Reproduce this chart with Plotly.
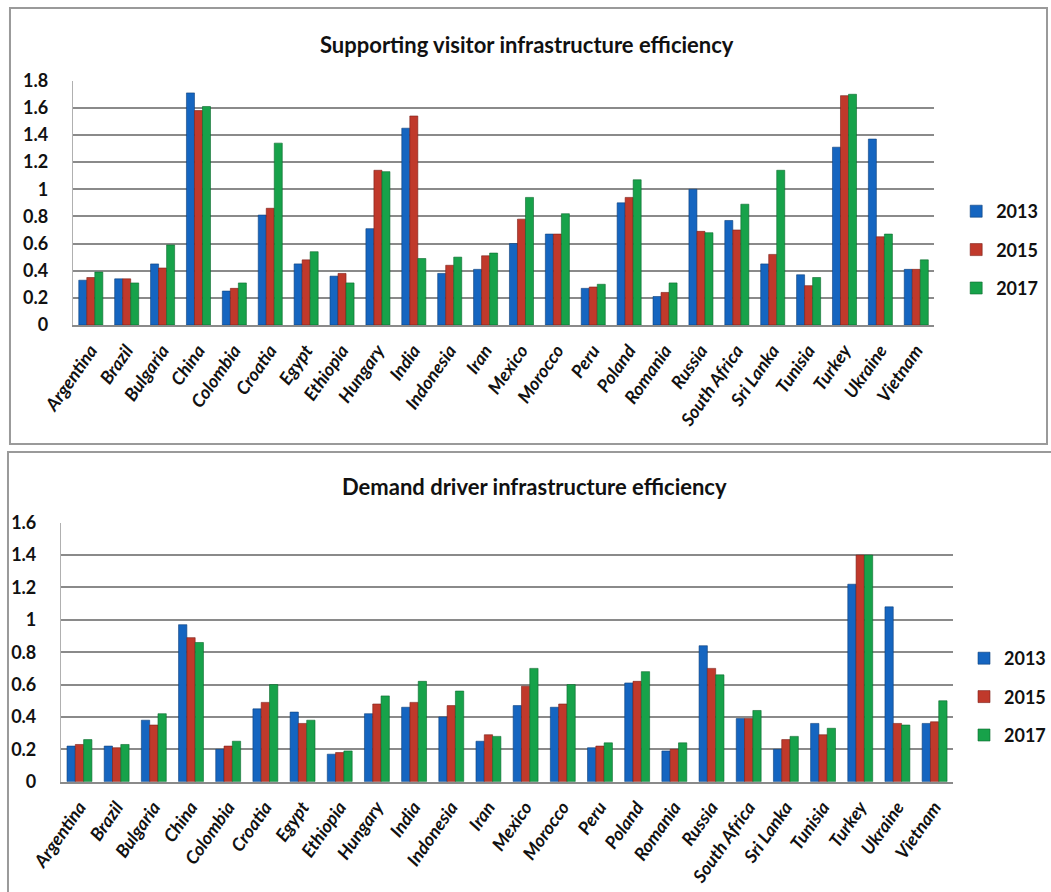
import plotly.graph_objects as go

countries = ["Argentina", "Brazil", "Bulgaria", "China", "Colombia", "Croatia", "Egypt",
             "Ethiopia", "Hungary", "India", "Indonesia", "Iran", "Mexico", "Morocco", "Peru",
             "Poland", "Romania", "Russia", "South Africa", "Sri Lanka", "Tunisia", "Turkey",
             "Ukraine", "Vietnam"]
years = ["2013", "2015", "2017"]

# Supporting visitor infrastructure efficiency
sv_2013 = [0.33, 0.34, 0.45, 1.71, 0.25, 0.81, 0.45, 0.36, 0.71, 1.45, 0.38, 0.41,
           0.60, 0.67, 0.27, 0.90, 0.21, 1.00, 0.77, 0.45, 0.37, 1.31, 1.37, 0.41]
sv_2015 = [0.35, 0.34, 0.42, 1.58, 0.27, 0.86, 0.48, 0.38, 1.14, 1.54, 0.44, 0.51,
           0.78, 0.67, 0.28, 0.94, 0.24, 0.69, 0.70, 0.52, 0.29, 1.69, 0.65, 0.41]
sv_2017 = [0.39, 0.31, 0.59, 1.61, 0.31, 1.34, 0.54, 0.31, 1.13, 0.49, 0.50, 0.53,
           0.94, 0.82, 0.30, 1.07, 0.31, 0.68, 0.89, 1.14, 0.35, 1.70, 0.67, 0.48]

# Demand driver infrastructure efficiency
dd_2013 = [0.22, 0.22, 0.38, 0.97, 0.20, 0.45, 0.43, 0.17, 0.42, 0.46, 0.40, 0.25,
           0.47, 0.46, 0.21, 0.61, 0.19, 0.84, 0.39, 0.20, 0.36, 1.22, 1.08, 0.36]
dd_2015 = [0.23, 0.21, 0.35, 0.89, 0.22, 0.49, 0.36, 0.18, 0.48, 0.49, 0.47, 0.29,
           0.59, 0.48, 0.22, 0.62, 0.20, 0.70, 0.39, 0.26, 0.29, 1.40, 0.36, 0.37]
dd_2017 = [0.26, 0.23, 0.42, 0.86, 0.25, 0.60, 0.38, 0.19, 0.53, 0.62, 0.56, 0.28,
           0.70, 0.60, 0.24, 0.68, 0.24, 0.66, 0.44, 0.28, 0.33, 1.40, 0.35, 0.50]

colors = ["#1565C0", "#C0392B", "#17A24A"]
lines = ["#0D3F7A", "#7A1F18", "#0C6A2E"]

W, H = 1051, 892

def px_x(x):
    return x / W

def px_y(y):
    return 1 - y / H

fig = go.Figure()

for i, (yr, vals) in enumerate(zip(years, [sv_2013, sv_2015, sv_2017])):
    fig.add_trace(go.Bar(x=countries, y=vals, name=yr, marker_color=colors[i],
                         marker_line=dict(color=lines[i], width=0.6),
                         xaxis="x", yaxis="y", legend="legend", legendgroup="a" + yr))
for i, (yr, vals) in enumerate(zip(years, [dd_2013, dd_2015, dd_2017])):
    fig.add_trace(go.Bar(x=countries, y=vals, name=yr, marker_color=colors[i],
                         marker_line=dict(color=lines[i], width=0.6),
                         xaxis="x2", yaxis="y2", legend="legend2", legendgroup="b" + yr))

FAM = "Lato, Open Sans, sans-serif"
tick_font = dict(family=FAM, size=18, color="#111", weight="bold")
cat_font = dict(family=FAM, size=18, color="#111", weight="bold", style="italic")
grid_col = "#8A8A8A"

common_y = dict(showgrid=True, gridcolor=grid_col, gridwidth=1.6, zeroline=False,
                showline=True, linecolor="#B0B0B0", linewidth=1, tickfont=tick_font,
                ticks="", ticklabelstandoff=20, fixedrange=True, automargin=False)
common_x = dict(showgrid=False, zeroline=False, showline=True, linecolor=grid_col,
                linewidth=1.6, tickfont=cat_font, tickangle=-55, ticks="",
                ticklabelstandoff=6, fixedrange=True, automargin=False)

legend_common = dict(font=dict(family=FAM, size=18, color="#111", weight="bold"),
                     bgcolor="rgba(0,0,0,0)", tracegroupgap=12, itemwidth=30,
                     xanchor="left", yanchor="middle")

fig.update_layout(
    width=W, height=H,
    margin=dict(l=0, r=0, t=0, b=0),
    paper_bgcolor="white", plot_bgcolor="white",
    barmode="group", bargap=0.33, bargroupgap=0.0,
    xaxis=dict(domain=[px_x(73), px_x(936)], anchor="y", **common_x),
    yaxis=dict(domain=[px_y(325), px_y(80.7)], anchor="x", range=[0, 1.8],
               tickvals=[0, 0.2, 0.4, 0.6, 0.8, 1.0, 1.2, 1.4, 1.6, 1.8],
               ticktext=["0", "0.2", "0.4", "0.6", "0.8", "1", "1.2", "1.4", "1.6", "1.8"],
               **common_y),
    xaxis2=dict(domain=[px_x(61), px_x(955)], anchor="y2", **common_x),
    yaxis2=dict(domain=[px_y(781.7), px_y(522.7)], anchor="x2", range=[0, 1.6],
                tickvals=[0, 0.2, 0.4, 0.6, 0.8, 1.0, 1.2, 1.4, 1.6],
                ticktext=["0", "0.2", "0.4", "0.6", "0.8", "1", "1.2", "1.4", "1.6"],
                **common_y),
    legend=dict(x=px_x(958), y=px_y(250), **legend_common),
    legend2=dict(x=px_x(966), y=px_y(697), **legend_common),
    showlegend=True,
    shapes=[
        dict(type="rect", xref="paper", yref="paper", x0=px_x(10), x1=px_x(1049),
             y0=px_y(444), y1=px_y(8), line=dict(color="#9A9A9A", width=2), layer="below"),
        dict(type="rect", xref="paper", yref="paper", x0=px_x(8), x1=px_x(1060),
             y0=px_y(900), y1=px_y(452), line=dict(color="#9A9A9A", width=2), layer="below"),
    ],
    annotations=[
        dict(text="Supporting visitor infrastructure efficiency", xref="paper", yref="paper",
             x=px_x(528), y=px_y(44), showarrow=False, xanchor="center", yanchor="middle",
             font=dict(family=FAM, size=22, color="#111", weight="bold")),
        dict(text="Demand driver infrastructure efficiency", xref="paper", yref="paper",
             x=px_x(536), y=px_y(487), showarrow=False, xanchor="center", yanchor="middle",
             font=dict(family=FAM, size=22, color="#111", weight="bold")),
    ],
)

fig.write_html("out.html")
